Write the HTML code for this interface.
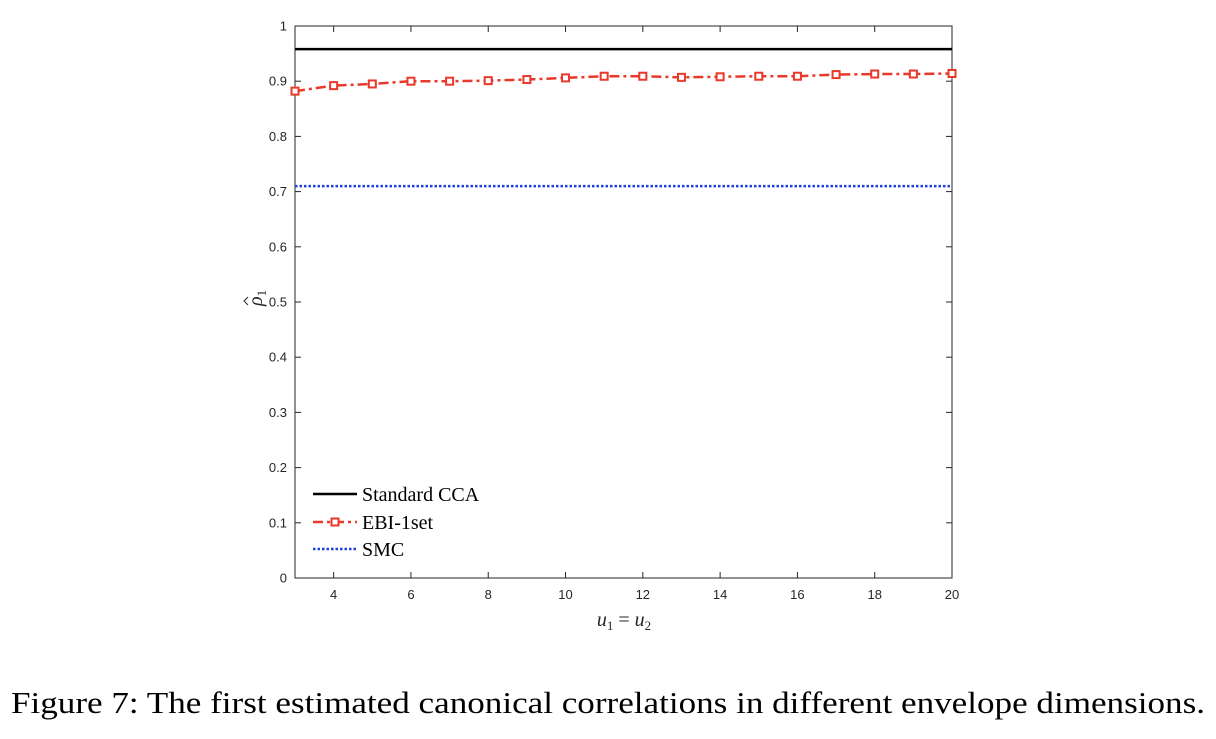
<!DOCTYPE html>
<html><head><meta charset="utf-8"><style>
body{margin:0;background:#fff;width:1216px;height:734px;overflow:hidden}
svg text{font-family:"Liberation Sans",sans-serif}
</style></head><body>
<svg id="chart" width="1216" height="734" viewBox="0 0 1216 734" xmlns="http://www.w3.org/2000/svg"></svg>
<script>
const xs=[3,4,5,6,7,8,9,10,11,12,13,14,15,16,17,18,19,20];
const ebi=[0.882,0.892,0.895,0.900,0.900,0.901,0.903,0.906,0.909,0.909,0.907,0.908,0.909,0.909,0.912,0.913,0.913,0.914];
const standardCCA=0.958;
const smc=0.710;
const xTicks=[4,6,8,10,12,14,16,18,20];
const yTicks=[0,0.1,0.2,0.3,0.4,0.5,0.6,0.7,0.8,0.9,1];
const yTickLabels=["0","0.1","0.2","0.3","0.4","0.5","0.6","0.7","0.8","0.9","1"];

const L=295,R=952,T=26,B=578;
const X=v=>L+(v-3)/(20-3)*(R-L);
const Y=v=>B-v*(B-T);
const svg=document.getElementById('chart');
const NS='http://www.w3.org/2000/svg';
function mk(tag,attrs,parent){const e=document.createElementNS(NS,tag);for(const k in attrs)e.setAttribute(k,attrs[k]);(parent||svg).appendChild(e);return e;}

const box=mk('rect',{x:L,y:T,width:R-L,height:B-T,fill:'none',stroke:'#262626','stroke-width':1});



xTicks.forEach(t=>{
  const g=mk('g',{});
  
  
  mk('line',{x1:X(t),x2:X(t),y1:B,y2:B-6,stroke:'#262626'},g);
  mk('line',{x1:X(t),x2:X(t),y1:T,y2:T+6,stroke:'#262626'},g);
  const tx=mk('text',{x:X(t),y:B+21,'text-anchor':'middle','font-size':13,fill:'#262626'},g);
  tx.textContent=t;
});
yTicks.forEach((t,i)=>{
  const g=mk('g',{});
  
  
  mk('line',{x1:L,x2:L+6,y1:Y(t),y2:Y(t),stroke:'#262626'},g);
  mk('line',{x1:R,x2:R-6,y1:Y(t),y2:Y(t),stroke:'#262626'},g);
  const tx=mk('text',{x:L-8,y:Y(t)+4.5,'text-anchor':'end','font-size':13,fill:'#262626'},g);
  tx.textContent=yTickLabels[i];
});

const cca=mk('line',{x1:L,x2:R,y1:Y(standardCCA),y2:Y(standardCCA),stroke:'#000','stroke-width':2.5});



const sm=mk('line',{x1:L,x2:R,y1:Y(smc),y2:Y(smc),stroke:'#1f3fe0','stroke-width':2.5,'stroke-dasharray':'2.5 2'});



const pts=xs.map((x,i)=>X(x)+','+Y(ebi[i])).join(' ');
const ebiLine=mk('polyline',{points:pts,fill:'none',stroke:'#e8392b','stroke-width':2.5,'stroke-dasharray':'10 4 3 4'});


xs.forEach((x,i)=>{
  const m=mk('rect',{x:X(x)-3.5,y:Y(ebi[i])-3.5,width:7,height:7,fill:'#fff',stroke:'#e8392b','stroke-width':2});
  
  
});

// legend
const lg=mk('g',{});


const ly=[494,522,549];
mk('line',{x1:313,x2:357,y1:ly[0],y2:ly[0],stroke:'#000','stroke-width':2.5},lg);
mk('line',{x1:313,x2:357,y1:ly[1],y2:ly[1],stroke:'#e8392b','stroke-width':2.5,'stroke-dasharray':'10 4 3 4'},lg);
mk('rect',{x:331.5,y:ly[1]-3.5,width:7,height:7,fill:'#fff',stroke:'#e8392b','stroke-width':2},lg);
mk('line',{x1:313,x2:357,y1:ly[2],y2:ly[2],stroke:'#1f3fe0','stroke-width':2.5,'stroke-dasharray':'2.5 2'},lg);
["Standard CCA","EBI-1set","SMC"].forEach((s,i)=>{
  const t=mk('text',{x:362,y:ly[i]+7,'font-size':20,fill:'#000',style:'font-family:"Liberation Serif",serif'},lg);
  
  
  t.textContent=s;
});

const yg=mk('g',{transform:'translate(262,300) rotate(-90)'});


const yl=mk('text',{x:-6,y:0,'font-size':20,fill:'#262626',style:'font-family:"Liberation Serif",serif;font-style:italic'},yg);
yl.innerHTML='ρ<tspan font-size="13" font-style="normal" dy="4">1</tspan>';
mk('path',{d:'M-5,-14 L-1,-18 L3,-14',fill:'none',stroke:'#262626','stroke-width':1},yg);

const xl=mk('text',{x:624,y:626,'font-size':20,fill:'#262626','text-anchor':'middle',style:'font-family:"Liberation Serif",serif'});


xl.innerHTML='<tspan font-style="italic">u</tspan><tspan font-size="13" dy="4">1</tspan><tspan dy="-4"> = </tspan><tspan font-style="italic">u</tspan><tspan font-size="13" dy="4">2</tspan>';

const cap=mk('text',{x:608,y:713,'font-size':31,fill:'#000','text-anchor':'middle',textLength:1194,lengthAdjust:'spacingAndGlyphs',style:'font-family:"Liberation Serif",serif'});


cap.textContent='Figure 7: The first estimated canonical correlations in different envelope dimensions.';
</script>
</body></html>
